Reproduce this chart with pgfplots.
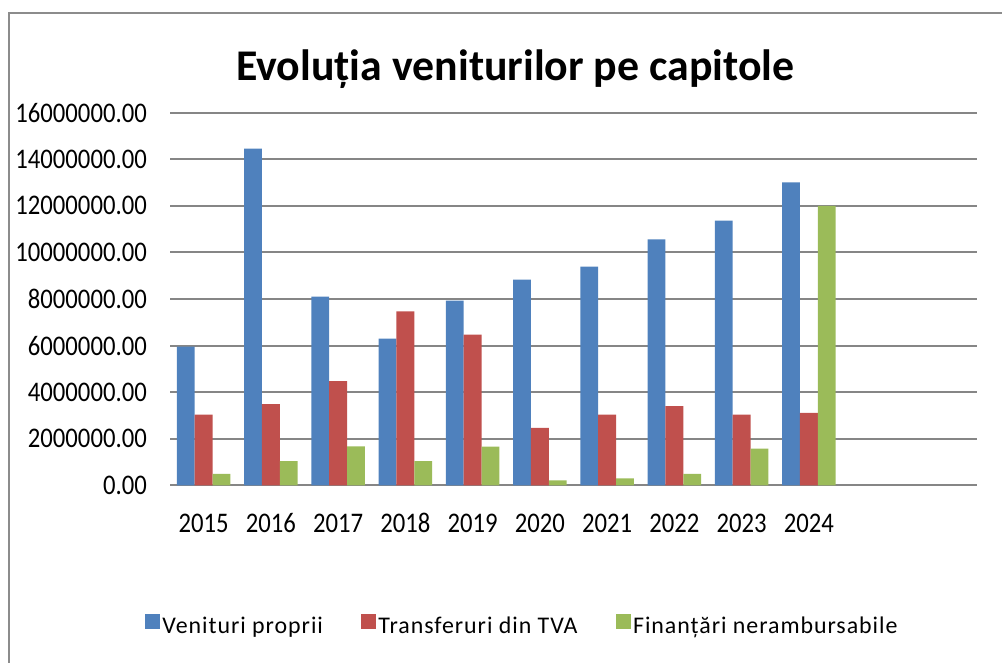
\documentclass[border=0pt]{standalone}
\usepackage{fontspec}
\setmainfont{Carlito}
\newfontfamily\labfont{Carlito}[FakeStretch=0.87]
\newfontfamily\legfont{Carlito}[LetterSpace=4]
\newfontfamily\titfont{Carlito}[BoldFont=Carlito Bold]
\usepackage{pgfplots}
\pgfplotsset{compat=1.18}
\definecolor{cblue}{HTML}{4F81BD}
\definecolor{cred}{HTML}{C0504D}
\definecolor{cgreen}{HTML}{9BBB59}
\definecolor{gridgray}{HTML}{868686}
\definecolor{framegray}{HTML}{8C8C8C}
\pgfplotsset{
  sq/.style={legend image code/.code={\fill[##1,draw=none] (0bp,-3bp) rectangle (15bp,12bp);}}
}
\begin{document}
\begin{tikzpicture}[x=1bp,y=1bp]
\useasboundingbox (0,0) rectangle (1002,-663);
\draw[line width=2.5bp, color=framegray] (9,-664) -- (9,-13) -- (1003,-13);
\begin{axis}[
  at={(170bp,-485.3bp)}, anchor=south west,
  scale only axis, width=807bp, height=372.6bp,
  ybar=0pt, bar width=17.8bp,
  xmin=-0.5, xmax=11.5, ymin=0, ymax=16000000,
  xtick={0,...,9},
  xticklabels={2015,2016,2017,2018,2019,2020,2021,2022,2023,2024},
  ytick={0,2000000,4000000,6000000,8000000,10000000,12000000,14000000,16000000},
  yticklabels={0.00,2000000.00,4000000.00,6000000.00,8000000.00,10000000.00,12000000.00,14000000.00,16000000.00},
  scaled y ticks=false,
  major tick length=0pt,
  axis line style={draw=none},
  ymajorgrids, grid style={line width=2bp, color=gridgray},
  yticklabel style={font=\labfont\fontsize{28.5}{28.5}\selectfont, inner sep=0pt, anchor=east, xshift=-23bp},
  xticklabel style={font=\labfont\fontsize{28.5}{28.5}\selectfont, inner sep=0pt, anchor=base, yshift=-46.7bp},
  title={\titfont\bfseries\fontsize{44}{44}\selectfont Evoluția veniturilor pe capitole},
  title style={at={(axis description cs:0.428,1)}, anchor=base, yshift=26bp, inner sep=0pt},
  legend columns=3,
  legend style={draw=none, fill=none, inner sep=0pt, outer sep=0pt,
    at={(axis description cs:-0.031,-0.375)}, anchor=west,
    font=\legfont\fontsize{24}{24}\selectfont,
    nodes={inner sep=1bp},
    /tikz/every odd column/.append style={column sep=1.5bp},
    /tikz/every even column/.append style={column sep=37bp}},
]
\addplot[fill=cblue, draw=none, sq] coordinates {(0,5950000) (1,14460000) (2,8100000) (3,6300000) (4,7930000) (5,8830000) (6,9390000) (7,10560000) (8,11370000) (9,13010000)};
\addplot[fill=cred, draw=none, sq] coordinates {(0,3030000) (1,3490000) (2,4470000) (3,7470000) (4,6470000) (5,2470000) (6,3030000) (7,3400000) (8,3030000) (9,3110000)};
\addplot[fill=cgreen, draw=none, sq] coordinates {(0,490000) (1,1040000) (2,1670000) (3,1040000) (4,1660000) (5,210000) (6,300000) (7,490000) (8,1570000) (9,12000000)};
\legend{Venituri proprii, Transferuri din TVA, Finanțări nerambursabile}
\end{axis}
\end{tikzpicture}
\end{document}
